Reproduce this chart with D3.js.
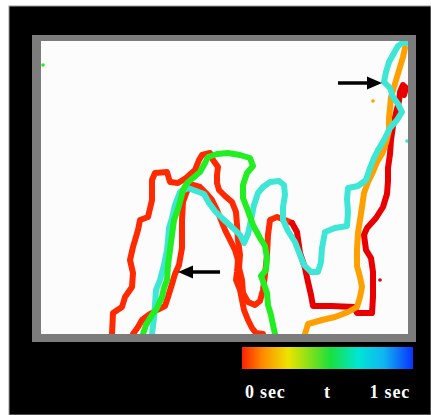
<!DOCTYPE html>
<html>
<head>
<meta charset="utf-8">
<script src="https://cdn.jsdelivr.net/npm/d3@7"></script>
<style>
  html, body { margin: 0; padding: 0; background: #ffffff; }
  svg { display: block; }
</style>
</head>
<body>
<script>
// Contour traces of the moving edge, in panel units (x right, y up).
const redLeft = [[71,0],[72,21],[81,27],[84,37],[91,47],[92,61],[89,74],[92,87],[97,104],[99,114],[107,117],[111,134],[111,154],[114,161],[126,162],[129,152],[137,151],[145,156],[154,164],[158,174],[161,179],[169,181],[172,174],[177,167],[176,159],[176,151],[178,144],[184,138],[191,132],[195,122],[196,109],[197,94],[199,79],[198,66],[201,54],[202,41],[207,32],[214,29],[219,33],[222,44],[224,59],[226,79],[227,99],[229,114],[236,117],[244,114],[251,111]];
const redRight = [[251,111],[256,102],[259,81],[264,66],[267,52],[270,39],[272,28],[291,28],[313,27],[316,21],[331,21],[332,37],[332,62],[330,76],[325,84],[323,99],[326,106],[335,116],[342,127],[346,140],[347,153],[347,166],[349,180],[350,194],[352,208],[355,221],[358,233],[359,242],[362,249],[365,246],[363,239]];
const redInner = [[92,0],[97,7],[101,14],[109,20],[116,24],[124,28],[127,37],[131,50],[134,60],[138,69],[141,86],[141,101],[141,114],[142,132],[146,143],[152,149],[159,147],[165,141],[171,134],[176,124],[180,114],[184,104],[189,94],[194,84],[197,74],[196,62],[195,54],[199,44],[201,34],[203,24],[207,14],[211,6],[215,1],[222,0]];
const orangeTrace = [[264,0],[267,10],[281,14],[294,17],[307,22],[316,27],[319,37],[321,47],[319,57],[316,68],[316,84],[317,101],[319,114],[321,127],[323,141],[327,152],[332,162],[336,172],[341,180],[345,191],[348,204],[348,216],[349,226],[350,237],[353,247],[356,257],[359,267],[362,277],[364,286]];
const greenTrace = [[102,0],[105,9],[109,16],[116,26],[121,37],[123,46],[126,54],[127,69],[129,84],[131,99],[133,114],[137,125],[140,136],[142,144],[146,151],[152,156],[159,162],[164,171],[167,177],[176,180],[187,181],[199,179],[209,176],[212,168],[206,161],[202,149],[202,136],[207,123],[212,109],[219,96],[224,88],[226,76],[225,64],[220,58],[223,50],[226,41],[227,29],[230,19],[232,9],[234,0]];
const cyanTrace = [[111,0],[113,16],[114,29],[115,44],[119,54],[123,69],[126,84],[127,94],[128,106],[131,116],[134,129],[139,142],[147,146],[155,143],[163,140],[168,131],[174,123],[183,114],[192,106],[199,99],[203,91],[207,100],[210,114],[213,129],[217,141],[222,147],[229,152],[238,153],[243,149],[244,139],[242,127],[242,114],[247,103],[254,92],[259,79],[263,69],[270,62],[277,62],[280,72],[281,86],[284,102],[294,106],[306,108],[307,122],[306,135],[307,146],[317,148],[325,154],[329,166],[333,176],[337,184],[343,194],[349,206],[356,214],[361,222],[357,230],[352,237],[349,246],[343,252],[345,262],[348,272],[353,281],[357,288],[363,292],[366,291]];

// Isolated specks: [x, y, colour key]
const specks = [[332,233,"orange"],[339,54,"red"],[366,193,"cyan"],[2,269,"green"]];

// Arrow annotations: [tailX, tailY, tipX, tipY]
const arrows = [[297,251,341,251],[179,62,137,62]];

// Time colour bar
const barStops = [0, 0.12, 0.27, 0.42, 0.52, 0.68, 0.83, 1];
const barColors = ["#ff2000", "#ff8a00", "#eee400", "#70e020", "#18e040", "#00e6d6", "#10b4f2", "#0a32ff"];
const barLabels = ["0 sec", "t", "1 sec"];
const barLabelPos = [0, 0.5, 1];

const palette = {
  redLeft: "#ff2a00",
  redRight: "#e80000",
  redInner: "#ff2a00",
  orange: "#ffa000",
  green: "#22ee22",
  cyan: "#3ee6d6",
  red: "#e80000"
};

const W = 431, H = 415;
const svg = d3.select("body").append("svg")
  .attr("width", W).attr("height", H);

// Black backdrop
svg.append("rect").attr("x", 9).attr("y", 6)
  .attr("width", W - 9).attr("height", H - 6)
  .attr("fill", "#000").attr("stroke", "#9a9a9a").attr("stroke-width", 1);

// Grey frame and white field
svg.append("rect").attr("x", 32).attr("y", 35).attr("width", 384).attr("height", 307).attr("fill", "#7c7c7c");
svg.append("rect").attr("x", 41).attr("y", 41).attr("width", 367).attr("height", 293).attr("fill", "#fcfcfc");

const x = d3.scaleLinear().domain([0, 367]).range([41, 408]);
const y = d3.scaleLinear().domain([0, 293]).range([334, 41]);

const line = d3.line().x(d => x(d[0])).y(d => y(d[1]));

const field = svg.append("g");
field.append("clipPath").attr("id", "fieldClip")
  .append("rect").attr("x", 41).attr("y", 41).attr("width", 367).attr("height", 293);
const traces = field.append("g").attr("clip-path", "url(#fieldClip)");

const layers = [
  [redLeft, palette.redLeft],
  [redRight, palette.redRight],
  [redInner, palette.redInner],
  [orangeTrace, palette.orange],
  [cyanTrace, palette.cyan],
  [greenTrace, palette.green]
];
layers.forEach(([pts, col]) => {
  traces.append("path")
    .attr("d", line(pts))
    .attr("fill", "none")
    .attr("stroke", col)
    .attr("stroke-width", 6)
    .attr("stroke-linejoin", "round")
    .attr("stroke-linecap", "round");
});

traces.selectAll("circle.speck").data(specks).join("circle")
  .attr("class", "speck")
  .attr("cx", d => x(d[0])).attr("cy", d => y(d[1]))
  .attr("r", 1.8)
  .attr("fill", d => palette[d[2]]);

// Arrows
arrows.forEach(([x0, y0, x1, y1]) => {
  const dir = Math.sign(x1 - x0);
  const headLen = 15, headHalf = 6.5;
  svg.append("line")
    .attr("x1", x(x0)).attr("y1", y(y0))
    .attr("x2", x(x1) - dir * (headLen - 2)).attr("y2", y(y1))
    .attr("stroke", "#000").attr("stroke-width", 3.5);
  const tx = x(x1), ty = y(y1);
  svg.append("polygon")
    .attr("points", [[tx, ty], [tx - dir * headLen, ty - headHalf], [tx - dir * headLen, ty + headHalf]].map(p => p.join(",")).join(" "))
    .attr("fill", "#000");
});

// Colour bar
const bx = d3.scaleLinear().domain([0, 1]).range([242, 413]);
const grad = svg.append("defs").append("linearGradient").attr("id", "timeGrad");
barStops.forEach((s, i) => grad.append("stop").attr("offset", s).attr("stop-color", barColors[i]));
svg.append("rect").attr("x", bx(0)).attr("y", 347)
  .attr("width", bx(1) - bx(0)).attr("height", 22)
  .attr("fill", "url(#timeGrad)");

svg.selectAll("text.barlabel").data(barLabels).join("text")
  .attr("class", "barlabel")
  .attr("x", (d, i) => bx(barLabelPos[i]) + (i === 0 ? 3 : i === 2 ? -3 : 0))
  .attr("y", 398)
  .attr("text-anchor", (d, i) => i === 0 ? "start" : i === 2 ? "end" : "middle")
  .attr("fill", "#fff")
  .attr("font-family", "'Liberation Serif', 'DejaVu Serif', serif")
  .attr("font-weight", "bold")
  .attr("font-size", 18)
  .attr("letter-spacing", 0.8)
  .text(d => d);
</script>
</body>
</html>
